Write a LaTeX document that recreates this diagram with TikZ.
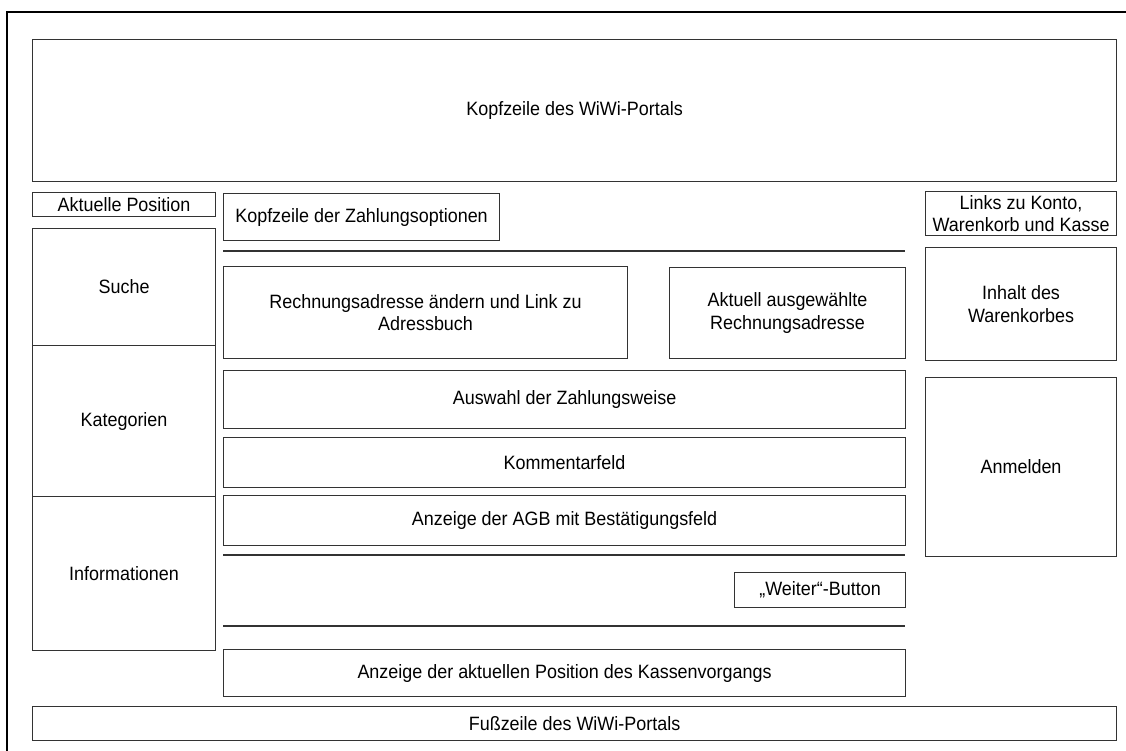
\documentclass[tikz,border=0pt]{standalone}
\usepackage{fontspec}
\setmainfont{Liberation Sans}[FakeStretch=0.93]
\begin{document}
\begin{tikzpicture}[x=1pt,y=-1pt,
  box/.style={draw=black!80, line width=1.1pt, anchor=north west, inner sep=2pt,
    align=center, font=\fontsize{19.3}{22.5}\selectfont},
  frame/.style={draw=black, line width=2.2pt},
  rule/.style={draw=black!80, line width=1.1pt}]
% page area
\useasboundingbox (0,0) rectangle (1126,751);
% outer window frame (only top and left edges lie on the page)
\draw[frame] (7,751) -- (7,12) -- (1126,12);
% #1 name, #2 x, #3 y, #4 width, #5 height, #6 text
\newcommand\wbox[6]{\node[box, minimum width=#4pt, minimum height=#5pt] (#1) at (#2,#3) {#6};}
% portal header and footer
\wbox{head}{32}{39}{1084}{142}{Kopfzeile des WiWi-Portals}
\wbox{fuss}{32}{706}{1084}{34}{Fußzeile des WiWi-Portals}
% left column
\wbox{pos}{32}{192}{183}{24}{Aktuelle Position}
\wbox{suche}{32}{228}{183}{117}{Suche}
\wbox{kat}{32}{345}{183}{151}{Kategorien}
\wbox{info}{32}{496}{183}{154}{Informationen}
% centre column
\wbox{kopfz}{223}{193}{276}{47}{Kopfzeile der Zahlungsoptionen}
\wbox{rech}{223}{266}{404}{92}{Rechnungsadresse ändern und Link zu\\Adressbuch}
\wbox{akt}{669}{267}{236}{91}{Aktuell ausgewählte\\Rechnungsadresse}
\wbox{ausw}{223}{370}{682}{58}{Auswahl der Zahlungsweise}
\wbox{komm}{223}{437}{682}{50}{Kommentarfeld}
\wbox{agb}{223}{495}{682}{50}{Anzeige der AGB mit Bestätigungsfeld}
\wbox{weiter}{734}{572}{171}{35}{„Weiter“-Button}
\wbox{kasse}{223}{649}{682}{47}{Anzeige der aktuellen Position des Kassenvorgangs}
% separators in the centre column
\draw[rule] (223,251) -- (905,251);
\draw[rule] (223,555) -- (905,555);
\draw[rule] (223,626) -- (905,626);
% right column
\wbox{links}{925}{191}{191}{44}{Links zu Konto,\\Warenkorb und Kasse}
\wbox{inhalt}{925}{247}{191}{113}{Inhalt des\\Warenkorbes}
\wbox{anm}{925}{377}{191}{179}{Anmelden}
\end{tikzpicture}
\end{document}
